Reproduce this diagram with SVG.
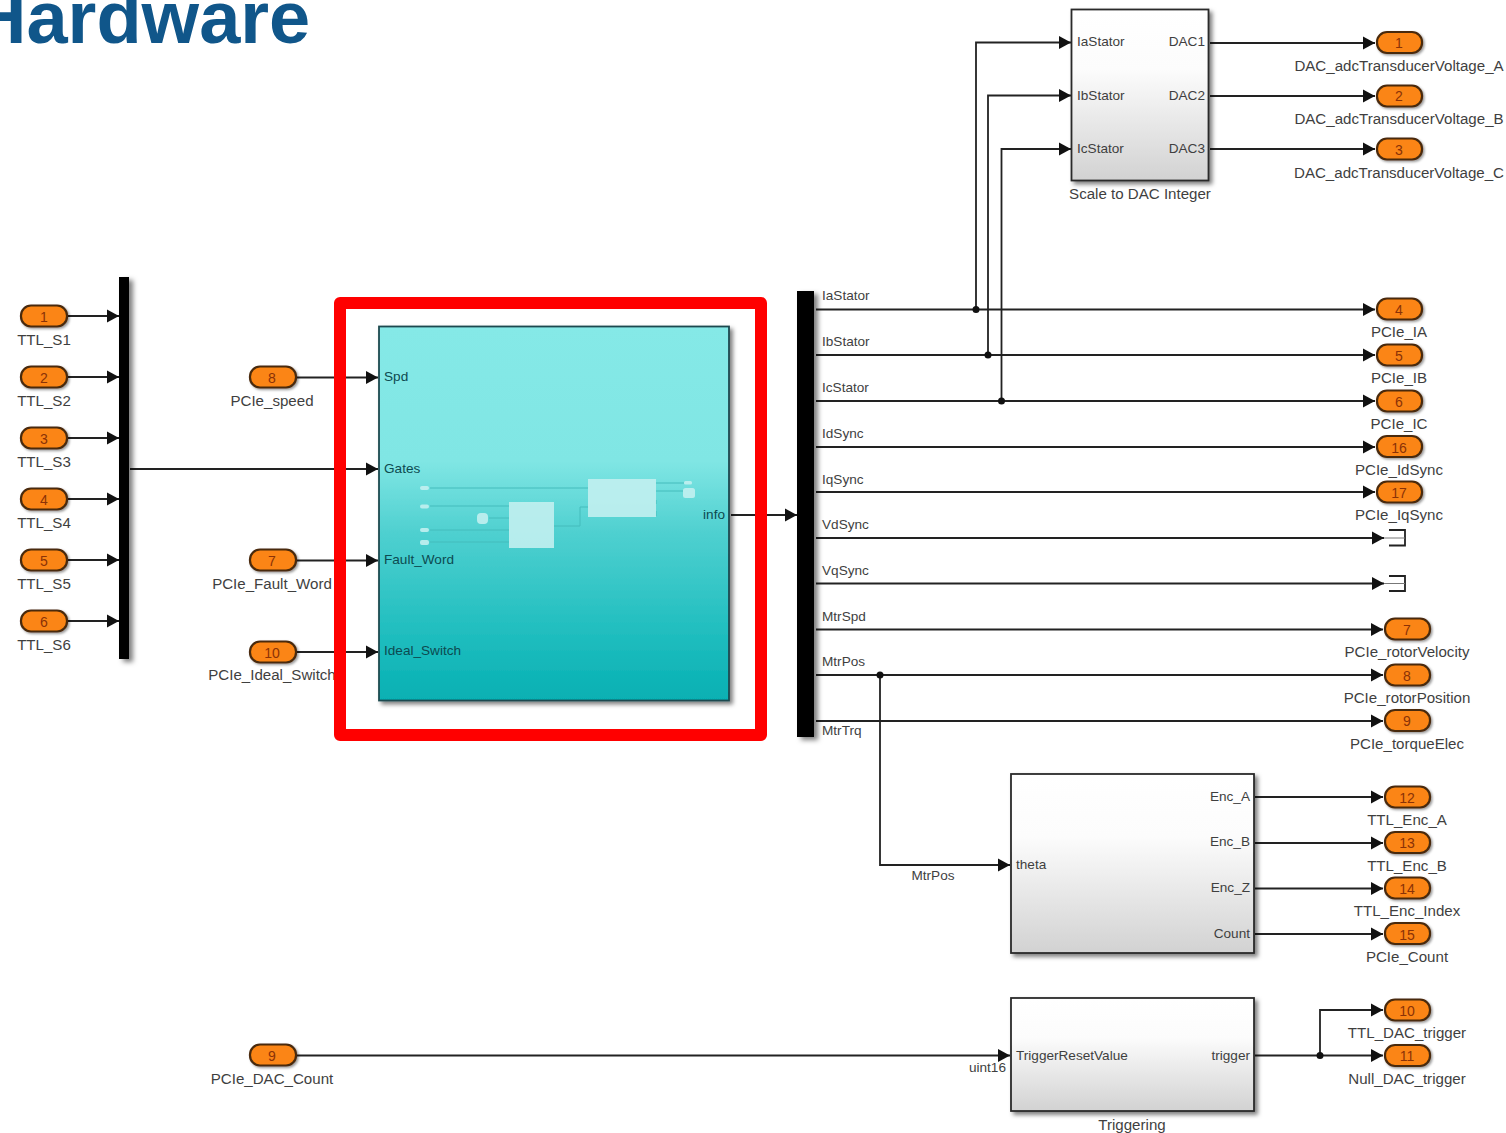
<svg xmlns="http://www.w3.org/2000/svg" width="1506" height="1133" viewBox="0 0 1506 1133">
<style>
text{font-family:"Liberation Sans",Arial,sans-serif;fill:#3f3f3f}
.t{font-size:74px;font-weight:700;fill:#10568a}
.l{font-size:15.1px;text-anchor:middle}
.p{font-size:13.6px}
.e{text-anchor:end}
.n{font-size:14px;text-anchor:middle;fill:#8a3206}
.q{fill:#fb8512;stroke:#4a2a10;stroke-width:2.2}
.b{stroke:#2b2b2b;stroke-width:1.8;fill:url(#gray);filter:url(#sh)}
.c{fill:none;stroke:#222;stroke-width:1.8}
.a{marker-end:url(#ar)}
.d{fill:#111}
.m{fill:#c2f0ef;opacity:.9}
.f{fill:none;stroke:#45bcbc;stroke-width:1}
.tl{fill:#0d4a50}
.w{fill:none;stroke:#777;stroke-width:1}
</style>
<defs>
<linearGradient id="gray" x1="0" y1="0" x2="0" y2="1"><stop offset="0" stop-color="#fff"/><stop offset=".35" stop-color="#fcfcfc"/><stop offset="1" stop-color="#d2d2d2"/></linearGradient>
<linearGradient id="teal" x1="0" y1="0" x2="0" y2="1"><stop offset="0" stop-color="#85e9e7"/><stop offset=".36" stop-color="#80e6e4"/><stop offset=".55" stop-color="#4fd0d0"/><stop offset=".8" stop-color="#23bfc0"/><stop offset="1" stop-color="#06b0b3"/></linearGradient>
<filter id="sh" x="-10%" y="-10%" width="125%" height="125%"><feDropShadow dx="3" dy="3" stdDeviation="2.2" flood-color="#000" flood-opacity=".5"/></filter>
<filter id="sp" x="-20%" y="-30%" width="150%" height="170%"><feDropShadow dx="1.5" dy="1.5" stdDeviation="1.2" flood-color="#000" flood-opacity=".4"/></filter>
<filter id="sb" x="-100%" y="-5%" width="400%" height="110%"><feDropShadow dx="4" dy="3" stdDeviation="2.5" flood-color="#000" flood-opacity=".5"/></filter>
<marker id="ar" markerUnits="userSpaceOnUse" markerWidth="13" markerHeight="14" refX="12" refY="7" orient="auto"><path d="M0 .5L12 7L0 13.500Z" fill="#111"/></marker>
</defs>

<text class="t" x="-27" y="43">Hardware</text>

<g id="connectors">
<path class="c a" d="M68 316H119"/><path class="c a" d="M68 377H119"/><path class="c a" d="M68 438H119"/><path class="c a" d="M68 499H119"/><path class="c a" d="M68 560H119"/><path class="c a" d="M68 621H119"/>
<path class="c a" d="M297 377.500H378"/><path class="c a" d="M130 469H378"/><path class="c a" d="M297 560.500H378"/><path class="c a" d="M297 652H378"/>
<path class="c a" d="M731 515H797"/>
<path class="c a" d="M816 309.500H1375"/><path class="c a" d="M816 355H1375"/><path class="c a" d="M816 401H1375"/><path class="c a" d="M816 447H1375"/><path class="c a" d="M816 492H1375"/>
<path class="c a" d="M816 538H1384"/><path class="c a" d="M816 583.500H1384"/>
<path class="c a" d="M816 629.500H1383"/><path class="c a" d="M816 675H1383"/><path class="c a" d="M816 721H1383"/>
<path class="c a" d="M976 309V42.500H1071"/><path class="c a" d="M988 355V95.500H1071"/><path class="c a" d="M1001.500 401V149H1071"/>
<path class="c a" d="M1210 43H1375"/><path class="c a" d="M1210 96H1375"/><path class="c a" d="M1210 149H1375"/>
<path class="c a" d="M880 675V865H1010"/>
<path class="c a" d="M1255 797H1383"/><path class="c a" d="M1255 843H1383"/><path class="c a" d="M1255 888.500H1383"/><path class="c a" d="M1255 934H1383"/>
<path class="c a" d="M297 1055.500H1010"/>
<path class="c a" d="M1255 1055.500H1383"/><path class="c a" d="M1320 1055.500V1010H1383"/>
<circle class="d" cx="976" cy="309.500" r="3.500"/><circle class="d" cx="988" cy="355" r="3.500"/><circle class="d" cx="1001.500" cy="401" r="3.500"/><circle class="d" cx="880" cy="675" r="3.500"/><circle class="d" cx="1320" cy="1055.500" r="3.500"/>
</g>

<g id="in1"><rect class="q" x="21" y="305.500" width="46" height="21" rx="10" filter="url(#sp)"/><text class="n" x="44" y="322">1</text><text class="l" x="44" y="345">TTL_S1</text></g>
<g id="in2"><rect class="q" x="21" y="366.500" width="46" height="21" rx="10" filter="url(#sp)"/><text class="n" x="44" y="383">2</text><text class="l" x="44" y="406">TTL_S2</text></g>
<g id="in3"><rect class="q" x="21" y="427.500" width="46" height="21" rx="10" filter="url(#sp)"/><text class="n" x="44" y="444">3</text><text class="l" x="44" y="467">TTL_S3</text></g>
<g id="in4"><rect class="q" x="21" y="488.500" width="46" height="21" rx="10" filter="url(#sp)"/><text class="n" x="44" y="505">4</text><text class="l" x="44" y="528">TTL_S4</text></g>
<g id="in5"><rect class="q" x="21" y="549.500" width="46" height="21" rx="10" filter="url(#sp)"/><text class="n" x="44" y="566">5</text><text class="l" x="44" y="589">TTL_S5</text></g>
<g id="in6"><rect class="q" x="21" y="610.500" width="46" height="21" rx="10" filter="url(#sp)"/><text class="n" x="44" y="627">6</text><text class="l" x="44" y="650">TTL_S6</text></g>
<g id="mux"><rect x="119" y="277" width="10" height="382" fill="#000" filter="url(#sb)"/></g>

<g id="in8"><rect class="q" x="250" y="366.500" width="46" height="21" rx="10" filter="url(#sp)"/><text class="n" x="272" y="383">8</text><text class="l" x="272" y="406">PCIe_speed</text></g>
<g id="in7"><rect class="q" x="250" y="549.500" width="46" height="21" rx="10" filter="url(#sp)"/><text class="n" x="272" y="566">7</text><text class="l" x="272" y="589">PCIe_Fault_Word</text></g>
<g id="in10"><rect class="q" x="250" y="641.500" width="46" height="21" rx="10" filter="url(#sp)"/><text class="n" x="272" y="658">10</text><text class="l" x="272" y="680">PCIe_Ideal_Switch</text></g>
<g id="in9"><rect class="q" x="250" y="1044.500" width="46" height="21" rx="10" filter="url(#sp)"/><text class="n" x="272" y="1061">9</text><text class="l" x="272" y="1084">PCIe_DAC_Count</text></g>

<g id="plant">
<rect x="379" y="326.500" width="350" height="374" fill="url(#teal)" stroke="#1c4a50" stroke-width="1.800" filter="url(#sh)"/>
<path class="f" d="M430 488H588M430 506H509M489 518H509M430 530H509M430 542H509M554 526H580V507H588M656 483H684M656 491H683M656 500V504M656 511V516"/>
<rect class="m" x="420" y="486" width="9" height="4" rx="2"/><rect class="m" x="420" y="504.500" width="9" height="4" rx="2"/><rect class="m" x="420" y="528" width="9" height="4" rx="2"/><rect class="m" x="420" y="540" width="9" height="5" rx="2"/>
<rect class="m" x="477" y="513" width="11" height="11" rx="4"/>
<rect class="m" x="509" y="502" width="45" height="46"/><rect class="m" x="588" y="479" width="68" height="38"/>
<rect class="m" x="684" y="481" width="8" height="3.500" rx="1.500"/><rect class="m" x="683" y="488" width="12" height="10" rx="2.500"/>
<text class="p tl" x="384" y="381">Spd</text><text class="p tl" x="384" y="472.500">Gates</text><text class="p tl" x="384" y="564">Fault_Word</text><text class="p tl" x="384" y="655">Ideal_Switch</text><text class="p e tl" x="725" y="518.500">info</text>
</g>

<g id="bus"><rect x="797" y="291" width="17" height="446" fill="#000" filter="url(#sb)"/>
<text class="p" x="822" y="300">IaStator</text><text class="p" x="822" y="346">IbStator</text><text class="p" x="822" y="392">IcStator</text><text class="p" x="822" y="437.500">IdSync</text><text class="p" x="822" y="483.500">IqSync</text><text class="p" x="822" y="529">VdSync</text><text class="p" x="822" y="575">VqSync</text><text class="p" x="822" y="620.500">MtrSpd</text><text class="p" x="822" y="666">MtrPos</text><text class="p" x="822" y="735">MtrTrq</text></g>

<g id="scale"><rect class="b" x="1071.500" y="9.500" width="137" height="171"/>
<text class="p" x="1077" y="46">IaStator</text><text class="p" x="1077" y="99.500">IbStator</text><text class="p" x="1077" y="152.500">IcStator</text>
<text class="p e" x="1205" y="46">DAC1</text><text class="p e" x="1205" y="99.500">DAC2</text><text class="p e" x="1205" y="152.500">DAC3</text>
<text class="l" x="1140" y="199">Scale to DAC Integer</text></g>

<g id="out1"><rect class="q" x="1377" y="32" width="45" height="21" rx="10" filter="url(#sp)"/><text class="n" x="1399" y="48">1</text><text class="l" x="1399" y="71">DAC_adcTransducerVoltage_A</text></g>
<g id="out2"><rect class="q" x="1377" y="85.500" width="45" height="21" rx="10" filter="url(#sp)"/><text class="n" x="1399" y="101">2</text><text class="l" x="1399" y="124">DAC_adcTransducerVoltage_B</text></g>
<g id="out3"><rect class="q" x="1377" y="138.500" width="45" height="21" rx="10" filter="url(#sp)"/><text class="n" x="1399" y="155">3</text><text class="l" x="1399" y="177.500">DAC_adcTransducerVoltage_C</text></g>
<g id="out4"><rect class="q" x="1377" y="298.500" width="45" height="21" rx="10" filter="url(#sp)"/><text class="n" x="1399" y="315">4</text><text class="l" x="1399" y="337">PCIe_IA</text></g>
<g id="out5"><rect class="q" x="1377" y="344.500" width="45" height="21" rx="10" filter="url(#sp)"/><text class="n" x="1399" y="360.500">5</text><text class="l" x="1399" y="383">PCIe_IB</text></g>
<g id="out6"><rect class="q" x="1377" y="390.500" width="45" height="21" rx="10" filter="url(#sp)"/><text class="n" x="1399" y="406.500">6</text><text class="l" x="1399" y="429">PCIe_IC</text></g>
<g id="out16"><rect class="q" x="1377" y="436" width="45" height="21" rx="10" filter="url(#sp)"/><text class="n" x="1399" y="452.500">16</text><text class="l" x="1399" y="475">PCIe_IdSync</text></g>
<g id="out17"><rect class="q" x="1377" y="481.500" width="45" height="21" rx="10" filter="url(#sp)"/><text class="n" x="1399" y="498">17</text><text class="l" x="1399" y="520">PCIe_IqSync</text></g>
<g id="term1"><path class="c" d="M1389 530H1405V545.500H1389"/><path class="w" d="M1384 538H1405"/></g>
<g id="term2"><path class="c" d="M1389 576H1405V591H1389"/><path class="w" d="M1384 583.500H1405"/></g>
<g id="out7"><rect class="q" x="1385" y="618.500" width="45" height="21" rx="10" filter="url(#sp)"/><text class="n" x="1407" y="635">7</text><text class="l" x="1407" y="657">PCIe_rotorVelocity</text></g>
<g id="out8"><rect class="q" x="1385" y="664.500" width="45" height="21" rx="10" filter="url(#sp)"/><text class="n" x="1407" y="680.500">8</text><text class="l" x="1407" y="703">PCIe_rotorPosition</text></g>
<g id="out9"><rect class="q" x="1385" y="710" width="45" height="21" rx="10" filter="url(#sp)"/><text class="n" x="1407" y="726">9</text><text class="l" x="1407" y="749">PCIe_torqueElec</text></g>

<g id="encoder"><rect class="b" x="1011" y="774" width="243" height="179"/>
<text class="p" x="1016" y="869">theta</text>
<text class="p e" x="1250" y="800.500">Enc_A</text><text class="p e" x="1250" y="846">Enc_B</text><text class="p e" x="1250" y="891.500">Enc_Z</text><text class="p e" x="1250" y="937.500">Count</text>
<text class="p" x="933" y="880" text-anchor="middle">MtrPos</text></g>
<g id="out12"><rect class="q" x="1385" y="786.500" width="45" height="21" rx="10" filter="url(#sp)"/><text class="n" x="1407" y="802.500">12</text><text class="l" x="1407" y="825">TTL_Enc_A</text></g>
<g id="out13"><rect class="q" x="1385" y="832" width="45" height="21" rx="10" filter="url(#sp)"/><text class="n" x="1407" y="848">13</text><text class="l" x="1407" y="871">TTL_Enc_B</text></g>
<g id="out14"><rect class="q" x="1385" y="877.500" width="45" height="21" rx="10" filter="url(#sp)"/><text class="n" x="1407" y="893.500">14</text><text class="l" x="1407" y="916">TTL_Enc_Index</text></g>
<g id="out15"><rect class="q" x="1385" y="923" width="45" height="21" rx="10" filter="url(#sp)"/><text class="n" x="1407" y="939.500">15</text><text class="l" x="1407" y="962">PCIe_Count</text></g>

<g id="trigger"><rect class="b" x="1011" y="998" width="243" height="113"/>
<text class="p" x="1016" y="1059.500">TriggerResetValue</text><text class="p e" x="1250" y="1059.500">trigger</text>
<text class="p e" x="1006" y="1072">uint16</text><text class="l" x="1132" y="1130">Triggering</text></g>
<g id="out10"><rect class="q" x="1385" y="999.500" width="45" height="21" rx="10" filter="url(#sp)"/><text class="n" x="1407" y="1015.500">10</text><text class="l" x="1407" y="1038">TTL_DAC_trigger</text></g>
<g id="out11"><rect class="q" x="1385" y="1045" width="45" height="21" rx="10" filter="url(#sp)"/><text class="n" x="1407" y="1061">11</text><text class="l" x="1407" y="1084">Null_DAC_trigger</text></g>

<g id="highlight"><rect x="340" y="303" width="421" height="432" fill="none" stroke="#ff0000" stroke-width="12" stroke-linejoin="round"/></g>
</svg>
